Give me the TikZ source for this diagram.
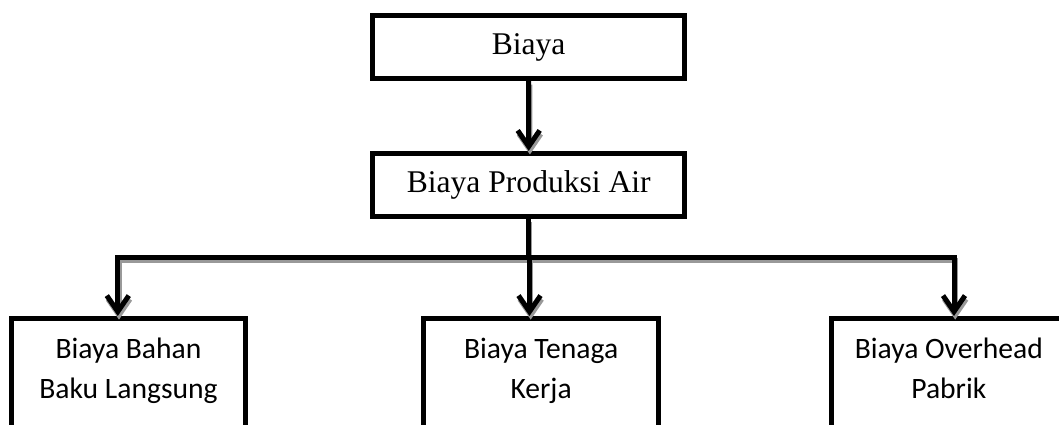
\documentclass[tikz,border=0pt]{standalone}
\usepackage{fontspec}
\setmainfont{Liberation Serif}
\newfontfamily\calib{Carlito}
\usetikzlibrary{arrows.meta}
\begin{document}
\begin{tikzpicture}[x=0.5pt,y=-0.5pt,
  topbox/.style={draw, line width=2.5pt, minimum width=156.2pt, minimum height=31.35pt, inner sep=0pt, font=\fontsize{15.8}{18}\selectfont},
  lowbox/.style={draw, line width=2.5pt, minimum width=117.2pt, minimum height=90.75pt, inner sep=0pt},
  lowtext/.style={align=center, inner sep=0pt, font=\calib\fontsize{14.8}{20}\selectfont, anchor=north},
  conn/.style={line width=2.5pt},
  arr/.style={conn, -{Straight Barb[length=8pt,width=11pt]}},
  shad/.style={draw=black!40},
]
\useasboundingbox (0,0) rectangle (1059,424);
\clip (0,0) rectangle (1059,424);
\node[topbox] (biaya) at (528.6,47.2) {Biaya};
\node[topbox] (prod) at (528.75,184.7) {Biaya Produksi Air};
\node[lowbox] (bbl) at (128.5,409.25) {};
\node[lowbox] (btk) at (541.1,409.25) {};
\node[lowbox] (bop) at (948.8,409.25) {};
\node[lowtext] (tbbl) at (128.5,337.5) {Biaya Bahan\\Baku Langsung};
\node[lowtext] (tbtk) at (541.1,337.5) {Biaya Tenaga\\Kerja};
\node[lowtext] (tbop) at (948.8,337.5) {Biaya Overhead\\Pabrik};
\coordinate (jy) at (0,257);
\coordinate (j) at (prod.south |- jy);
\begin{scope}[transform canvas={xshift=0.6pt,yshift=-1.8pt}]
  \draw[arr, shad] (biaya) -- (prod);
  \draw[conn, shad] (prod.south) -- (j);
  \draw[arr, shad] (j) -| ([xshift=-5.35pt]bbl.north);
  \draw[arr, shad] (j) -| ([xshift=-5.8pt]btk.north);
  \draw[arr, shad] (j) -| ([xshift=2.6pt]bop.north);
\end{scope}
\draw[arr] (biaya) -- (prod);
\draw[conn] (prod.south) -- (j);
\draw[arr] (j) -| ([xshift=-5.35pt]bbl.north);
\draw[arr] (j) -| ([xshift=-5.8pt]btk.north);
\draw[arr] (j) -| ([xshift=2.6pt]bop.north);
\end{tikzpicture}
\end{document}
